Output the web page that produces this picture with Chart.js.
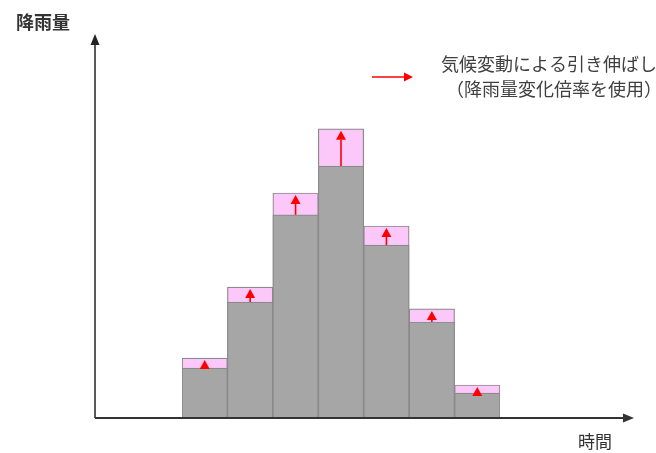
<!DOCTYPE html>
<html>
<head>
<meta charset="utf-8">
<script src="https://cdn.jsdelivr.net/npm/chart.js@4"></script>
<style>
  body { margin: 0; background: #fff; }
  #wrap { width: 656px; height: 453px; position: relative; }
</style>
</head>
<body>
<div id="wrap"><canvas id="myChart"></canvas></div>
<script>
// time steps (hyetograph blocks)
const steps = ['1', '2', '3', '4', '5', '6', '7'];
// rainfall of the base hyetograph
const baseRain = [13.0, 30.2, 52.9, 65.6, 45.0, 25.0, 6.5];
// rainfall after climate change stretching
const stretchedRain = [15.6, 34.1, 58.6, 75.3, 50.0, 28.4, 8.6];
const yMax = 100;

const font = '"Noto Sans CJK JP", "Noto Sans", sans-serif';

function arrow(c, x1, y1, x2, y2, head, half, color, lw) {
  const ang = Math.atan2(y2 - y1, x2 - x1);
  const bx = x2 - head * Math.cos(ang), by = y2 - head * Math.sin(ang);
  c.strokeStyle = color;
  c.fillStyle = color;
  c.lineWidth = lw;
  c.beginPath();
  c.moveTo(x1, y1);
  c.lineTo(bx, by);
  c.stroke();
  c.beginPath();
  c.moveTo(x2, y2);
  c.lineTo(bx + half * Math.sin(ang), by - half * Math.cos(ang));
  c.lineTo(bx - half * Math.sin(ang), by + half * Math.cos(ang));
  c.closePath();
  c.fill();
}

//draws the axes with arrows, the red stretch arrows and the texts
const decor = {
  id: 'decor',
  afterDatasetsDraw(chart) {
    const c = chart.ctx;
    const xs = chart.scales.x, ys = chart.scales.y;
    const bottom = chart.chartArea.bottom;
    c.save();
    // stretch arrows
    steps.forEach((s, i) => {
      const x = xs.getPixelForValue(i);
      const y1 = ys.getPixelForValue(baseRain[i]);
      const y2 = ys.getPixelForValue(stretchedRain[i]) + 2;
      arrow(c, x, y1, x, y2, 9, 5, '#ff0000', 1.6);
    });
    // axes
    arrow(c, 95, bottom, 95, 34, 11, 4.5, '#222', 1.5);
    arrow(c, 95, bottom, 634, bottom, 11, 4.5, '#333', 2);
    // legend
    arrow(c, 372, 77, 413, 77, 9, 4.5, '#ff0000', 1.5);
    c.fillStyle = '#404040';
    c.textBaseline = 'middle';
    c.font = '18px ' + font;
    c.fillText('気候変動による引き伸ばし', 441, 64);
    c.fillText('（降雨量変化倍率を使用）', 446, 89);
    c.fillStyle = '#333';
    c.font = 'bold 18px ' + font;
    c.fillText('降雨量', 16, 22);
    c.font = '17px ' + font;
    c.fillText('時間', 578, 442);
    c.restore();
  }
};

new Chart(document.getElementById('myChart'), {
  type: 'bar',
  data: {
    labels: steps,
    datasets: [
      {
        label: 'base',
        data: baseRain,
        backgroundColor: '#a6a6a6',
        borderColor: '#8a8a8a',
        borderWidth: 1.2,
        borderSkipped: false,
        grouped: false,
        order: 0
      },
      {
        label: 'stretched',
        data: stretchedRain,
        backgroundColor: '#fcc8fa',
        borderColor: '#8a8a8a',
        borderWidth: 1.2,
        borderSkipped: false,
        grouped: false,
        order: 1
      }
    ]
  },
  options: {
    responsive: true,
    maintainAspectRatio: false,
    animation: false,
    layout: { padding: { left: 182, right: 156, top: 34, bottom: 35 } },
    datasets: { bar: { categoryPercentage: 1, barPercentage: 1 } },
    scales: {
      x: { display: false, offset: true },
      y: { display: false, min: 0, max: yMax }
    },
    plugins: {
      legend: { display: false },
      tooltip: { enabled: false }
    }
  },
  plugins: [decor]
});
</script>
</body>
</html>
